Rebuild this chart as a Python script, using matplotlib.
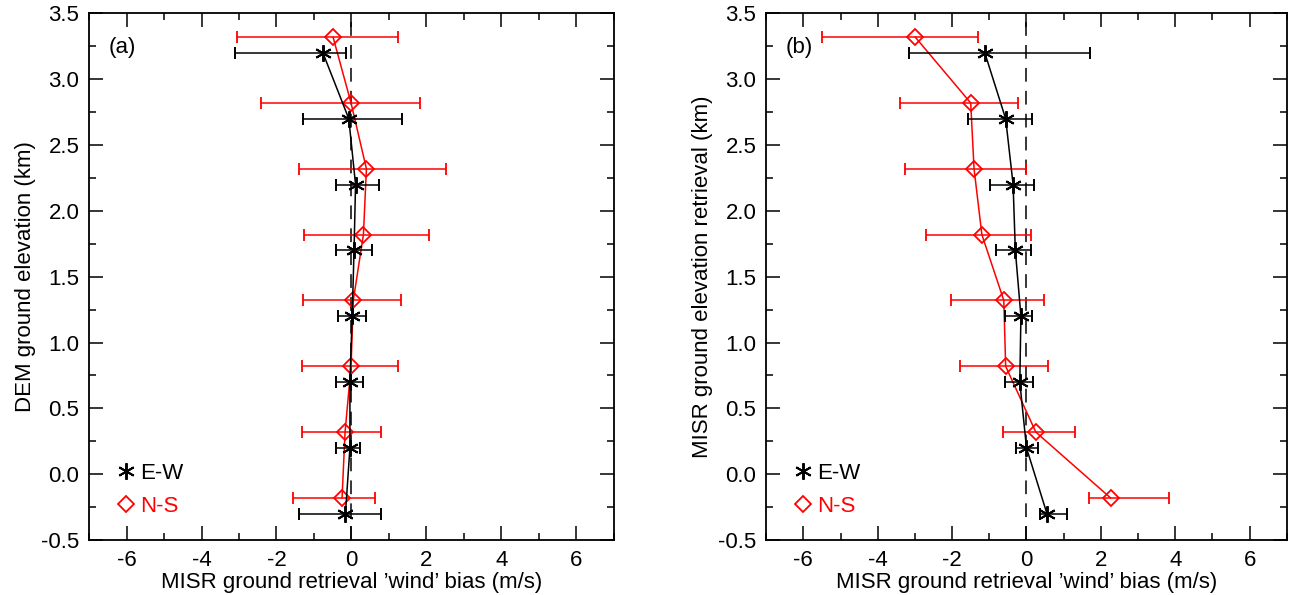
import numpy as np
import matplotlib
matplotlib.use('Agg')
import matplotlib.pyplot as plt
from matplotlib.lines import Line2D
from matplotlib.ticker import MultipleLocator

plt.rcParams['font.family'] = ['Liberation Sans', 'DejaVu Sans']
plt.rcParams['font.size'] = 16
plt.rcParams['axes.unicode_minus'] = False

# elevation bins (km)
elev_ew = [3.2, 2.7, 2.2, 1.7, 1.2, 0.7, 0.2, -0.3]
elev_ns = [3.32, 2.82, 2.32, 1.82, 1.32, 0.82, 0.32, -0.18]

# panel (a): DEM ground elevation
a_ew = [-0.76, -0.07, 0.11, 0.07, 0.02, -0.04, -0.04, -0.16]
a_ew_lo = [-3.12, -1.30, -0.40, -0.41, -0.36, -0.42, -0.41, -1.39]
a_ew_hi = [-0.15, 1.35, 0.73, 0.55, 0.39, 0.31, 0.24, 0.80]
a_ns = [-0.49, -0.01, 0.40, 0.32, 0.05, -0.01, -0.17, -0.25]
a_ns_lo = [-3.06, -2.42, -1.40, -1.26, -1.28, -1.32, -1.33, -1.57]
a_ns_hi = [1.25, 1.83, 2.52, 2.07, 1.32, 1.23, 0.80, 0.64]

# panel (b): MISR ground elevation retrieval
b_ew = [-1.12, -0.56, -0.36, -0.30, -0.15, -0.18, 0.00, 0.55]
b_ew_lo = [-3.15, -1.57, -0.98, -0.83, -0.58, -0.58, -0.28, 0.37]
b_ew_hi = [1.72, 0.14, 0.20, 0.13, 0.15, 0.18, 0.31, 1.10]
b_ns = [-2.99, -1.50, -1.41, -1.20, -0.61, -0.56, 0.25, 2.26]
b_ns_lo = [-5.50, -3.41, -3.27, -2.70, -2.04, -1.80, -0.62, 1.68]
b_ns_hi = [-1.30, -0.23, -0.02, 0.13, 0.47, 0.58, 1.30, 3.84]

panels = [
    ('(a)', 'DEM ground elevation (km)', a_ew, a_ew_lo, a_ew_hi, a_ns, a_ns_lo, a_ns_hi),
    ('(b)', 'MISR ground elevation retrieval (km)', b_ew, b_ew_lo, b_ew_hi, b_ns, b_ns_lo, b_ns_hi),
]

fig = plt.figure(figsize=(12.92, 5.95), dpi=100)
rects = [[0.069, 0.0924, 0.406, 0.885], [0.593, 0.0924, 0.403, 0.885]]

star = (6, 2, 0)
for rect, (tag, ylab, ew, ew_lo, ew_hi, ns, ns_lo, ns_hi) in zip(rects, panels):
    ax = fig.add_axes(rect)
    ax.axvline(0, color='black', ls=(0, (9, 6)), lw=1.1, zorder=1)

    ew = np.array(ew)
    ns = np.array(ns)
    ew_err = [ew - np.array(ew_lo), np.array(ew_hi) - ew]
    ns_err = [ns - np.array(ns_lo), np.array(ns_hi) - ns]

    ax.errorbar(ew, elev_ew, xerr=ew_err, color='black', lw=1.1, elinewidth=1.1,
                capsize=4.5, capthick=1.1, marker=star, ms=12, mew=1.4, zorder=3)
    ax.errorbar(ns, elev_ns, xerr=ns_err, color='red', lw=1.1, elinewidth=1.1,
                capsize=4.5, capthick=1.1, marker='D', ms=8.5, mfc='none', mew=1.3, zorder=2,
                ecolor='red')

    ax.set_xlim(-7, 7)
    ax.set_ylim(-0.5, 3.5)
    ax.xaxis.set_major_locator(MultipleLocator(2))
    ax.xaxis.set_minor_locator(MultipleLocator(1))
    ax.yaxis.set_major_locator(MultipleLocator(0.5))
    ax.yaxis.set_minor_locator(MultipleLocator(0.25))
    ax.yaxis.set_major_formatter(matplotlib.ticker.FormatStrFormatter('%.1f'))
    ax.tick_params(which='both', direction='in', top=True, right=True, labelsize=16)
    ax.tick_params(which='major', length=10, width=1.1, pad=7)
    ax.tick_params(which='minor', length=5, width=1.1)
    for sp in ax.spines.values():
        sp.set_linewidth(1.3)

    ax.set_xlabel('MISR ground retrieval \u2019wind\u2019 bias (m/s)', fontsize=16, labelpad=1)
    ax.set_ylabel(ylab, fontsize=16, labelpad=4)
    ax.text(0.037, 0.955, tag, transform=ax.transAxes, fontsize=16, va='top', ha='left')

    handles = [
        Line2D([], [], color='black', marker=star, ls='none', ms=12, mew=1.4),
        Line2D([], [], color='red', marker='D', ls='none', ms=8.5, mfc='none', mew=1.3),
    ]
    ax.legend(handles, ['E-W', 'N-S'], loc='lower left', bbox_to_anchor=(0.018, 0.006),
              frameon=False, handlelength=0.7, handletextpad=0.25, labelspacing=0.55,
              labelcolor=['black', 'red'], fontsize=16)

plt.savefig('out.png', dpi=100)
